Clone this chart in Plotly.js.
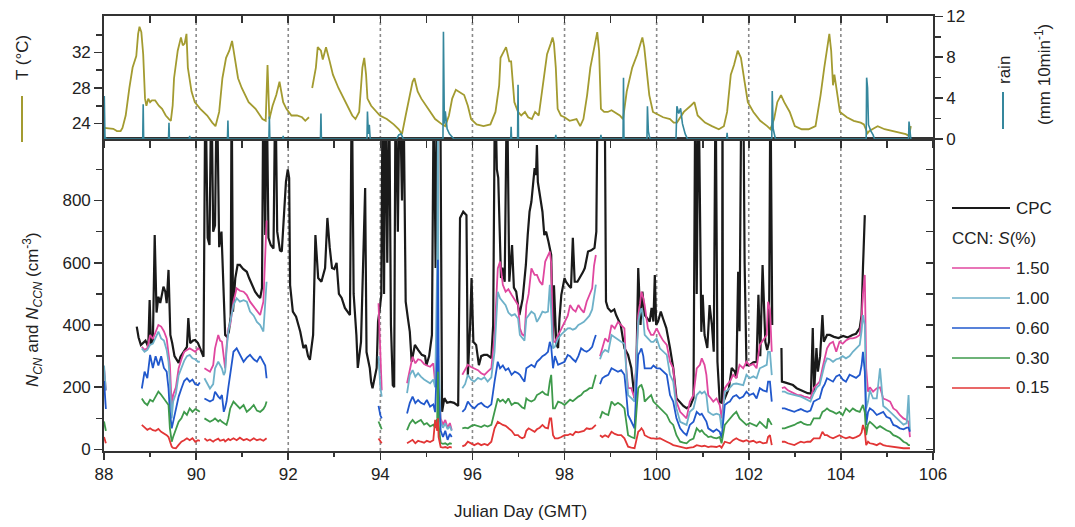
<!DOCTYPE html>
<html><head><meta charset="utf-8">
<script src="https://cdn.plot.ly/plotly-3.0.1.min.js"></script>
<style>html,body{margin:0;padding:0;background:#fff}#chart{width:1075px;height:527px}</style>
</head><body><div id="chart"></div>
<script>
// ---------- DATA ----------
// Air temperature (deg C)
const tDays = [88.00,88.10,88.20,88.28,88.36,88.40,88.47,88.55,88.62,88.70,88.74,88.77,88.81,88.85,88.89,88.92,88.96,89.00,89.04,89.11,89.19,89.26,89.34,89.41,89.45,89.49,89.52,89.60,89.67,89.71,89.75,89.79,89.82,89.90,89.97,90.09,90.24,90.35,90.42,90.50,90.57,90.65,90.72,90.78,90.84,90.91,90.99,91.14,91.29,91.44,91.51,91.55,91.59,91.66,91.74,91.81,91.89,91.96,92.07,92.19,92.30,92.37,92.45,92.49,92.52,92.60,92.64,92.71,92.75,92.82,92.90,92.97,93.09,93.24,93.39,93.46,93.54,93.61,93.65,93.69,93.72,93.80,93.91,93.99,94.14,94.29,94.40,94.47,94.55,94.62,94.70,94.74,94.81,94.89,95.04,95.19,95.34,95.41,95.49,95.56,95.64,95.75,95.82,95.90,95.97,96.09,96.24,96.39,96.50,96.58,96.61,96.69,96.73,96.80,96.84,96.91,96.99,97.06,97.14,97.21,97.29,97.36,97.44,97.51,97.59,97.62,97.70,97.74,97.77,97.81,97.85,97.92,98.00,98.11,98.26,98.34,98.41,98.49,98.56,98.64,98.71,98.75,98.79,98.86,98.94,99.02,99.13,99.20,99.27,99.35,99.47,99.58,99.65,99.69,99.73,99.77,99.84,99.92,99.99,100.14,100.29,100.37,100.44,100.59,100.74,100.82,100.89,101.05,101.20,101.35,101.46,101.53,101.61,101.68,101.76,101.83,101.91,101.98,102.10,102.25,102.40,102.47,102.55,102.62,102.70,102.77,102.89,103.00,103.15,103.30,103.45,103.56,103.64,103.71,103.75,103.79,103.83,103.86,103.90,103.98,104.13,104.28,104.43,104.50,104.58,104.62,104.73,104.80,104.95,105.10,105.26,105.41,105.48,105.52];
const tempC = [23.5,23.45,23.4,23.15,23.15,23.5,24.9,28.0,30.3,31.6,34.1,34.9,34.3,31.8,26.8,26.0,26.8,26.4,26.6,26.6,26.0,25.65,24.9,24.5,24.3,26.0,29.1,32.2,33.7,32.8,33.0,34.1,30.3,27.6,26.4,25.65,24.9,24.1,23.7,25.3,29.1,31.4,32.2,33.3,31.4,29.1,28.0,26.4,25.65,24.5,24.3,30.6,24.5,26.0,27.2,28.7,26.4,25.65,24.9,24.9,24.7,24.3,24.7,null,28.0,30.3,32.6,32.2,31.2,32.6,31.0,29.5,28.0,26.4,24.9,24.5,25.3,30.3,31.4,29.5,26.8,26.0,25.3,24.9,24.5,23.9,23.35,22.8,24.9,26.8,28.7,29.1,27.6,26.8,25.65,24.5,23.9,23.7,24.9,26.8,27.8,27.4,27.2,26.0,24.5,23.9,23.7,23.9,25.3,28.3,31.4,32.2,32.6,31.0,31.0,26.4,25.3,24.9,25.3,24.7,24.5,25.3,24.9,27.6,31.0,31.8,33.0,33.7,33.0,30.3,25.65,24.9,24.7,24.3,24.5,23.7,24.5,27.2,30.3,32.6,34.3,32.2,25.65,25.3,25.3,25.5,25.1,24.9,24.5,27.6,30.3,31.8,33.0,33.7,32.6,30.3,27.2,25.3,25.1,24.7,24.5,24.1,24.1,25.3,26.0,26.4,24.9,24.1,23.7,23.35,23.7,25.3,29.5,30.6,32.2,31.4,28.7,26.4,25.3,24.3,23.7,23.35,24.5,26.4,27.2,26.4,25.3,23.7,23.35,23.35,23.7,27.2,30.3,33.0,34.1,32.2,28.3,29.5,28.0,25.3,24.7,24.3,24.1,23.9,22.9,23.15,23.5,23.7,23.35,23.15,22.96,22.8,22.6,23.7];

// Rain (mm per 10 min)
const rainDays = [88.00,88.005,88.02,88.05,88.84,88.85,88.86,89.40,89.41,89.42,89.85,89.86,89.87,90.68,90.69,90.70,91.58,91.59,91.60,91.88,91.89,91.90,92.70,92.71,92.72,93.71,93.72,93.74,93.76,93.78,94.35,94.40,94.45,94.50,95.36,95.37,95.39,95.41,95.45,95.50,95.56,95.60,96.83,96.84,96.85,96.98,96.99,97.00,97.80,97.81,97.82,98.78,98.79,98.80,99.27,99.28,99.29,99.79,99.80,99.82,99.84,99.86,100.42,100.44,100.48,100.52,100.56,100.62,100.67,101.52,101.53,101.54,102.50,102.51,102.53,102.56,102.58,104.55,104.56,104.58,104.60,104.65,104.70,104.73,105.47,105.48,105.50,105.52];
const rainMm = [0,4.2,0.2,0,0,3.4,0,0,1.6,0,0,0.3,0,0,1.8,0,0,2.2,0,0,0.3,0,0,2.5,0,0,2.7,0.5,1.4,0,0,0.4,0.5,0,0,10.5,1.5,2.7,1.0,0.5,0.2,0,0,1.2,0,0,5.3,0,0,0.4,0,0,0.4,0,0,6.0,0,0,3.2,0.75,0.3,0,0,3.2,2.5,3.0,1.5,0.5,0,0,0.6,0,0,4.7,1.0,0.3,0,0,6.0,5.0,1.4,0.8,0.4,0,0,1.7,0.3,0];

// CPC total particle number concentration (cm^-3)
const cpcDays = [88.71,88.75,88.80,88.85,88.90,88.96,88.99,89.02,89.06,89.10,89.14,89.18,89.22,89.26,89.29,89.33,89.36,89.40,89.44,89.48,89.53,89.58,89.62,89.66,89.71,89.76,89.80,89.83,89.87,89.93,89.98,90.04,90.10,90.16,90.20,90.25,90.29,90.33,90.37,90.41,90.45,90.50,90.55,90.60,90.63,90.67,90.71,90.75,90.77,90.80,90.85,90.90,90.95,91.02,91.10,91.15,91.22,91.28,91.34,91.39,91.43,91.46,91.50,91.53,91.57,91.62,91.68,91.72,91.76,91.82,91.86,91.90,91.95,91.99,92.02,92.04,92.10,92.17,92.26,92.33,92.38,92.43,92.47,92.54,92.59,92.65,92.72,92.80,92.85,92.90,92.95,93.00,93.05,93.10,93.16,93.23,93.34,93.38,93.42,93.48,93.51,93.58,93.67,93.70,93.77,93.80,93.83,93.92,93.95,93.99,94.02,94.05,94.08,94.11,94.15,94.19,94.23,94.27,94.30,94.33,94.38,94.42,94.47,94.50,94.55,94.60,94.64,94.68,94.75,94.82,94.90,94.97,95.00,95.06,95.12,95.16,95.20,95.24,95.30,95.34,95.39,95.45,95.52,95.60,95.69,95.73,95.80,95.87,95.90,95.95,95.98,96.02,96.08,96.14,96.19,96.25,96.32,96.41,96.45,96.49,96.53,96.56,96.62,96.65,96.70,96.75,96.80,96.86,96.90,96.95,97.02,97.09,97.16,97.20,97.24,97.28,97.31,97.35,97.38,97.40,97.42,97.47,97.52,97.56,97.60,97.65,97.71,97.75,97.77,97.82,97.86,97.89,97.93,98.00,98.03,98.10,98.14,98.18,98.22,98.28,98.33,98.40,98.44,98.47,98.51,98.58,98.65,98.69,98.72,98.80,98.87,98.90,98.94,99.01,99.08,99.12,99.18,99.22,99.30,99.38,99.45,99.49,99.52,99.56,99.60,99.65,99.69,99.74,99.80,99.85,99.89,99.93,99.96,99.99,100.03,100.09,100.14,100.21,100.29,100.36,100.43,100.51,100.58,100.65,100.73,100.80,100.84,100.87,100.91,100.97,101.00,101.04,101.10,101.15,101.20,101.24,101.28,101.32,101.37,101.42,101.43,101.44,101.50,101.57,101.63,101.70,101.73,101.77,101.80,101.84,101.88,101.91,101.95,102.02,102.10,102.17,102.21,102.25,102.30,102.33,102.36,102.40,102.44,102.47,102.51,102.53,102.71,102.72,102.80,102.88,102.96,103.04,103.12,103.20,103.28,103.35,103.39,103.42,103.47,103.50,103.55,103.60,103.63,103.70,103.76,103.85,103.95,104.05,104.15,104.25,104.33,104.41,104.45,104.48,104.52];
const cpcConc = [395,360,336,342,350,330,480,340,345,689,440,491,471,500,523,507,470,577,368,342,300,288,278,298,310,320,330,422,342,350,352,342,320,298,1200,680,657,1200,700,720,1200,650,700,507,368,362,378,427,1200,443,551,593,593,580,571,551,530,507,495,487,519,1200,689,1200,680,657,646,1200,700,640,636,750,860,900,872,528,443,427,379,326,336,300,288,368,689,551,539,583,744,650,583,580,600,500,487,455,432,1200,500,368,262,346,840,313,262,217,197,262,411,455,497,1200,500,1200,600,1200,400,207,200,1200,700,1200,800,1200,475,420,378,282,336,320,304,300,271,300,368,1200,583,1200,1200,121,165,150,153,150,140,744,764,753,239,400,551,346,336,271,300,304,304,294,400,1200,900,873,551,584,539,1200,539,657,520,507,432,484,593,689,764,796,850,904,882,978,860,818,764,689,700,668,625,346,528,340,326,420,497,551,539,525,519,680,539,539,551,570,583,610,636,640,648,700,1200,1200,1200,475,455,443,450,432,410,400,326,304,262,200,165,262,583,400,507,432,420,411,455,411,561,400,411,443,420,390,326,262,165,153,140,133,140,165,1200,500,1200,378,497,368,326,464,400,314,1200,282,153,150,1200,150,175,197,262,250,230,571,380,1200,1200,600,271,271,280,282,497,300,593,450,346,320,346,1200,400,null,326,218,215,210,207,197,192,186,181,180,390,185,326,250,300,432,346,368,368,362,358,365,360,368,372,390,432,583,753];

// CCN number concentration (cm^-3) at supersaturation S(%) = 1.50, 1.00, 0.60, 0.30, 0.15
const ccnDays = [88.00,88.04,88.06,88.82,88.88,88.94,89.00,89.06,89.12,89.18,89.24,89.30,89.36,89.40,89.43,89.47,89.50,89.56,89.62,89.68,89.74,89.80,89.86,89.92,89.98,90.04,90.08,90.12,90.18,90.24,90.30,90.37,90.41,90.48,90.52,90.56,90.60,90.63,90.66,90.70,90.74,90.81,90.88,90.95,91.03,91.10,91.17,91.25,91.32,91.39,91.46,91.50,91.53,91.56,93.96,94.00,94.03,94.06,94.58,94.64,94.70,94.76,94.82,94.88,94.95,95.01,95.08,95.15,95.19,95.235,95.25,95.265,95.31,95.36,95.41,95.46,95.51,95.55,95.58,95.78,95.84,95.90,95.97,96.04,96.12,96.19,96.26,96.33,96.41,96.48,96.55,96.60,96.66,96.72,96.78,96.85,96.92,96.99,97.03,97.08,97.13,97.17,97.22,97.28,97.35,97.40,97.46,97.52,97.58,97.64,97.68,97.71,97.75,97.79,97.86,97.93,98.00,98.07,98.12,98.18,98.24,98.30,98.36,98.42,98.48,98.54,98.60,98.64,98.68,98.72,98.77,98.82,98.88,98.95,99.02,99.09,99.16,99.23,99.30,99.34,99.38,99.45,99.49,99.52,99.56,99.60,99.64,99.67,99.71,99.74,99.81,99.88,99.93,100.00,100.07,100.14,100.22,100.29,100.36,100.43,100.51,100.58,100.65,100.72,100.80,100.87,100.94,100.98,101.04,101.08,101.12,101.18,101.23,101.30,101.37,101.41,101.48,101.54,101.59,101.66,101.73,101.80,101.88,101.95,102.02,102.10,102.17,102.24,102.31,102.39,102.42,102.46,102.50,102.53,102.72,102.78,102.85,102.92,102.99,103.06,103.13,103.20,103.27,103.34,103.41,103.48,103.54,103.60,103.65,103.70,103.76,103.83,103.90,103.97,104.04,104.11,104.19,104.26,104.33,104.41,104.45,104.48,104.52,104.55,104.59,104.63,104.70,104.78,104.85,104.92,104.99,105.07,105.14,105.21,105.28,105.36,105.43,105.47,105.50];
const ccn150 = [260,190,null,330,320,325,368,355,380,400,395,380,357,314,272,140,175,200,261,290,314,320,325,320,314,325,320,null,261,255,250,271,325,368,350,346,300,261,330,390,400,475,518,510,507,496,475,460,443,432,475,600,736,null,470,300,190,null,213,260,298,277,290,287,275,270,266,277,213,250,400,200,100,80,95,70,85,63,null,240,255,272,265,261,255,245,240,250,261,368,582,604,529,507,515,497,480,464,389,370,365,464,500,582,561,561,540,529,604,625,636,600,346,346,368,389,410,430,464,450,443,464,450,440,475,500,518,590,625,null,300,325,357,346,400,389,410,400,389,261,197,197,175,164,300,430,470,507,486,464,389,368,368,389,368,350,336,282,261,154,121,110,100,154,175,261,272,293,272,240,175,164,154,164,143,100,197,210,218,240,229,272,261,282,270,275,261,336,350,368,475,450,314,null,197,200,190,185,180,175,175,170,168,164,197,210,218,261,290,325,340,346,314,346,340,350,357,357,360,368,420,500,561,261,186,200,186,197,200,164,160,154,132,125,111,100,95,89,40];
const ccn100 = [270,190,null,325,314,320,336,340,360,379,357,350,320,282,218,100,154,180,239,265,285,300,304,293,290,282,282,null,229,210,196,210,261,282,270,260,239,250,320,380,410,464,486,475,480,475,443,430,410,400,379,460,539,null,300,200,170,null,181,239,255,234,245,234,225,220,213,225,200,600,1050,300,90,70,84,65,75,60,null,197,210,240,225,218,230,225,232,218,232,314,507,486,475,464,440,430,435,421,368,360,350,421,430,443,435,410,425,443,440,443,529,450,325,330,357,370,379,389,390,385,389,400,405,410,420,430,450,490,530,null,290,310,320,314,368,360,355,346,340,250,175,165,160,154,280,410,440,454,420,368,357,346,346,357,325,315,304,240,218,132,89,84,79,121,132,175,186,180,186,175,121,115,111,115,111,68,186,190,197,210,212,210,207,240,229,235,229,261,265,272,314,314,239,null,186,186,180,178,175,172,170,165,160,154,180,200,207,250,275,293,290,282,290,293,300,293,300,314,325,336,380,432,400,132,154,190,164,164,261,140,132,121,110,100,89,80,85,175,60];
const ccn060 = [220,130,null,196,250,229,304,262,300,270,300,262,250,196,121,68,90,132,170,196,220,229,218,225,210,207,215,null,164,160,154,160,186,170,164,175,121,135,154,200,239,314,325,304,282,295,304,290,282,300,282,270,229,null,140,110,100,null,116,150,170,149,159,150,145,159,138,145,120,300,610,200,60,40,60,31,50,40,null,121,130,154,140,132,145,150,140,135,145,218,282,261,270,255,261,240,250,245,240,228,218,261,266,272,265,282,290,300,305,314,346,330,261,300,272,278,282,304,300,290,282,300,325,318,314,320,330,350,368,null,210,229,235,240,261,255,250,255,240,180,111,90,75,68,200,304,315,325,300,261,261,261,270,261,261,250,240,175,154,100,68,55,46,79,89,121,111,115,100,90,68,62,57,65,57,36,143,150,154,170,175,164,170,186,175,180,164,197,190,186,218,218,154,null,132,132,128,125,121,126,130,125,121,125,154,160,164,197,210,229,225,218,235,240,225,218,240,235,230,240,270,314,250,79,120,132,125,111,115,121,105,100,79,75,68,65,70,70,57];
const ccn030 = [90,60,null,164,150,143,160,154,170,186,176,164,154,143,68,25,40,68,89,100,121,111,132,121,130,125,121,null,100,95,89,95,100,90,95,89,85,80,79,100,132,154,143,132,143,121,130,143,125,121,130,140,154,null,90,75,65,null,62,84,95,84,90,95,80,85,74,80,70,100,250,80,21,18,20,15,20,18,null,68,70,68,75,79,75,72,78,74,79,121,164,154,160,150,164,143,150,148,143,135,132,164,158,154,160,175,180,186,178,175,218,240,132,132,154,150,143,154,160,155,164,170,175,186,190,197,197,220,240,null,100,121,115,111,154,143,150,143,132,90,46,40,38,36,120,197,205,207,190,154,165,175,154,143,132,121,111,89,79,46,25,22,20,30,35,68,57,62,50,46,40,42,38,36,40,20,79,90,100,111,121,100,89,79,85,80,75,89,80,68,100,90,79,null,68,68,72,75,79,85,89,82,79,80,100,100,100,121,125,132,125,121,115,121,110,132,121,132,125,121,135,143,120,46,80,89,80,68,75,68,62,57,46,42,36,25,20,14,14];
const ccn015 = [40,20,null,79,70,63,68,62,60,66,57,52,46,40,25,9,5,4,15,25,30,36,30,36,25,30,28,null,36,28,32,25,30,35,28,30,32,26,30,34,30,36,30,38,30,34,28,36,30,33,28,32,36,null,35,25,20,null,20,25,31,20,28,25,22,28,24,30,95,60,100,40,8,6,8,5,8,6,null,10,14,25,20,14,20,14,18,14,25,68,89,84,79,76,68,60,46,46,40,36,40,60,68,62,57,65,70,79,70,68,100,100,46,36,36,40,46,46,50,46,57,55,57,60,68,66,68,75,79,null,46,40,46,40,57,50,46,46,36,20,9,6,5,4,30,57,62,68,60,46,40,36,36,34,36,30,25,20,14,12,9,5,4,6,8,14,12,10,12,9,8,10,9,8,12,6,25,22,20,30,36,30,26,30,25,28,22,25,20,22,40,46,14,null,25,25,20,18,14,20,25,22,25,25,36,36,36,57,46,46,40,36,40,46,40,36,40,36,40,46,55,79,60,14,25,20,18,14,20,14,12,10,8,6,6,4,4,4,4];

const ccnLabels = ['1.50','1.00','0.60','0.30','0.15'];
const ccnSeries = [ccn150, ccn100, ccn060, ccn030, ccn015];
const evenDays = [90,92,94,96,98,100,102,104];

// ---------- STYLE ----------
const FONT = '"Liberation Sans", Arial, Helvetica, sans-serif';
const OLIVE = '#a39b30';
const TEAL = '#35879d';
const CPC_COLOR = '#1a1a1a';
const ccnColors = ['#e0479f', '#6eb1c9', '#2158cc', '#3e9a4b', '#e23636'];
const AX = '#333333';

const traces = [];
traces.push({x: tDays, y: tempC, xaxis: 'x2', yaxis: 'y2', type: 'scatter', mode: 'lines',
  line: {color: OLIVE, width: 1.8}, showlegend: false, name: 'T'});
traces.push({x: rainDays, y: rainMm, xaxis: 'x2', yaxis: 'y4', type: 'scatter', mode: 'lines',
  line: {color: TEAL, width: 1.6}, showlegend: false, name: 'rain'});
traces.push({x: cpcDays, y: cpcConc, xaxis: 'x', yaxis: 'y', type: 'scatter', mode: 'lines',
  line: {color: CPC_COLOR, width: 2.2}, name: 'CPC', showlegend: false});
ccnSeries.forEach((s, i) => {
  traces.push({x: ccnDays, y: s, xaxis: 'x', yaxis: 'y', type: 'scatter', mode: 'lines',
    line: {color: ccnColors[i], width: 1.8}, name: 'CCN ' + ccnLabels[i], showlegend: false});
});
// helper (empty) traces so the tick-only overlay axes get drawn
traces.push({x: [], y: [], xaxis: 'x', yaxis: 'y3', type: 'scatter', mode: 'lines', showlegend: false, hoverinfo: 'skip'});
traces.push({x: [], y: [], xaxis: 'x3', yaxis: 'y2', type: 'scatter', mode: 'lines', showlegend: false, hoverinfo: 'skip'});

const BOT = 0.7172;
const yRange = [-4.8, 997.6];
const common = {showgrid: false, zeroline: false, linecolor: AX, linewidth: 1.8, tickcolor: AX, tickwidth: 1.6};

// paper-coordinate helpers (plot area: x 104..933 px, y 16..451 px)
const px = v => (v - 104) / 829;
const py = v => (451 - v) / 435;

const shapes = evenDays.map(d => ({type: 'line', xref: 'x', yref: 'paper', x0: d, x1: d, y0: 0, y1: 1,
  layer: 'below', line: {color: '#8a8a8a', width: 1.6, dash: 'dot'}}));
shapes.push({type: 'line', xref: 'paper', yref: 'paper', x0: px(22), x1: px(22), y0: py(142), y1: py(96),
  line: {color: OLIVE, width: 2}});
shapes.push({type: 'line', xref: 'paper', yref: 'paper', x0: px(1003), x1: px(1003), y0: py(129), y1: py(92),
  line: {color: TEAL, width: 2}});

// legend (drawn as lines + text)
const legendRows = [{label: 'CPC', color: CPC_COLOR, y: 208, w: 2}];
ccnLabels.forEach((l, i) => legendRows.push({label: l, color: ccnColors[i], y: 268 + 30 * i, w: 1.6}));
legendRows.forEach(r => shapes.push({type: 'line', xref: 'paper', yref: 'paper', x0: px(952), x1: px(1010),
  y0: py(r.y), y1: py(r.y), line: {color: r.color, width: r.w}}));

const annotations = [
  {xref: 'paper', yref: 'paper', x: px(23), y: py(58), text: 'T (°C)', textangle: -90, showarrow: false,
    font: {size: 17}, xanchor: 'center', yanchor: 'middle'},
  {xref: 'paper', yref: 'paper', x: px(1004), y: py(70), text: 'rain', textangle: -90, showarrow: false,
    font: {size: 17}, xanchor: 'center', yanchor: 'middle'},
  {xref: 'paper', yref: 'paper', x: px(1043), y: py(75), text: '(mm 10min<sup>-1</sup>)', textangle: -90, showarrow: false,
    font: {size: 17}, xanchor: 'center', yanchor: 'middle'},
  {xref: 'paper', yref: 'paper', x: px(32), y: py(310),
    text: '<i>N</i><sub><i>CN</i></sub> and <i>N</i><sub><i>CCN</i></sub> (cm<sup>-3</sup>)',
    textangle: -90, showarrow: false, font: {size: 17}, xanchor: 'center', yanchor: 'middle'},
  {xref: 'paper', yref: 'paper', x: px(520), y: py(511), text: 'Julian Day (GMT)', showarrow: false,
    font: {size: 17}, xanchor: 'center', yanchor: 'middle'},
  {xref: 'paper', yref: 'paper', x: px(950), y: py(238), text: 'CCN: <i>S</i>(%)', showarrow: false,
    font: {size: 17}, xanchor: 'left', yanchor: 'middle'}
];
legendRows.forEach(r => annotations.push({xref: 'paper', yref: 'paper', x: px(1014), y: py(r.y), text: r.label,
  showarrow: false, font: {size: 17}, xanchor: 'left', yanchor: 'middle'}));

const layout = {
  width: 1075, height: 527,
  margin: {l: 104, r: 142, t: 16, b: 76},
  paper_bgcolor: '#ffffff', plot_bgcolor: 'rgba(0,0,0,0)',
  font: {family: FONT, size: 17, color: '#222'},
  showlegend: false,
  xaxis: Object.assign({}, common, {domain: [0, 1], anchor: 'y', range: [87.999, 106.001], tick0: 88, dtick: 2,
    ticks: 'outside', ticklen: 7, showline: true, mirror: true, tickfont: {size: 17},
    minor: {dtick: 1, ticks: 'outside', ticklen: 4, tickcolor: AX, tickwidth: 1.6}}),
  yaxis: Object.assign({}, common, {domain: [0, BOT], anchor: 'x', range: yRange, tick0: 0, dtick: 200,
    ticks: 'outside', ticklen: 8, showline: true, mirror: true, tickfont: {size: 17},
    minor: {dtick: 100, ticks: 'outside', ticklen: 6, tickcolor: AX, tickwidth: 1.6}}),
  yaxis3: Object.assign({}, common, {overlaying: 'y', side: 'right', anchor: 'x', range: yRange, tick0: 0, dtick: 100,
    ticks: 'inside', ticklen: 7, showticklabels: false, showline: false}),
  xaxis2: Object.assign({}, common, {domain: [0, 1], anchor: 'y2', range: [87.999, 106.001], tick0: 88, dtick: 1,
    ticks: 'outside', ticklen: 7, showticklabels: false, showline: true, mirror: true}),
  xaxis3: Object.assign({}, common, {overlaying: 'x2', side: 'top', anchor: 'y2', range: [87.999, 106.001], tick0: 88, dtick: 1,
    ticks: 'inside', ticklen: 7, showticklabels: false, showline: false}),
  yaxis2: Object.assign({}, common, {domain: [BOT, 1], anchor: 'x2', range: [22.25, 36.11], tickmode: 'array',
    tickvals: [24, 28, 32], ticks: 'outside', ticklen: 8, showline: true, tickfont: {size: 17},
    minor: {tickmode: 'array', tickvals: [26, 30, 34], ticks: 'outside', ticklen: 6, tickcolor: AX, tickwidth: 1.6}}),
  yaxis4: Object.assign({}, common, {overlaying: 'y2', side: 'right', anchor: 'x2', range: [0, 12.03], tick0: 0, dtick: 4,
    ticks: 'outside', ticklen: 8, showline: true, tickfont: {size: 17},
    minor: {dtick: 2, ticks: 'outside', ticklen: 6, tickcolor: AX, tickwidth: 1.6}}),
  shapes: shapes,
  annotations: annotations
};

Plotly.newPlot('chart', traces, layout, {displayModeBar: false, staticPlot: true});
</script></body></html>
